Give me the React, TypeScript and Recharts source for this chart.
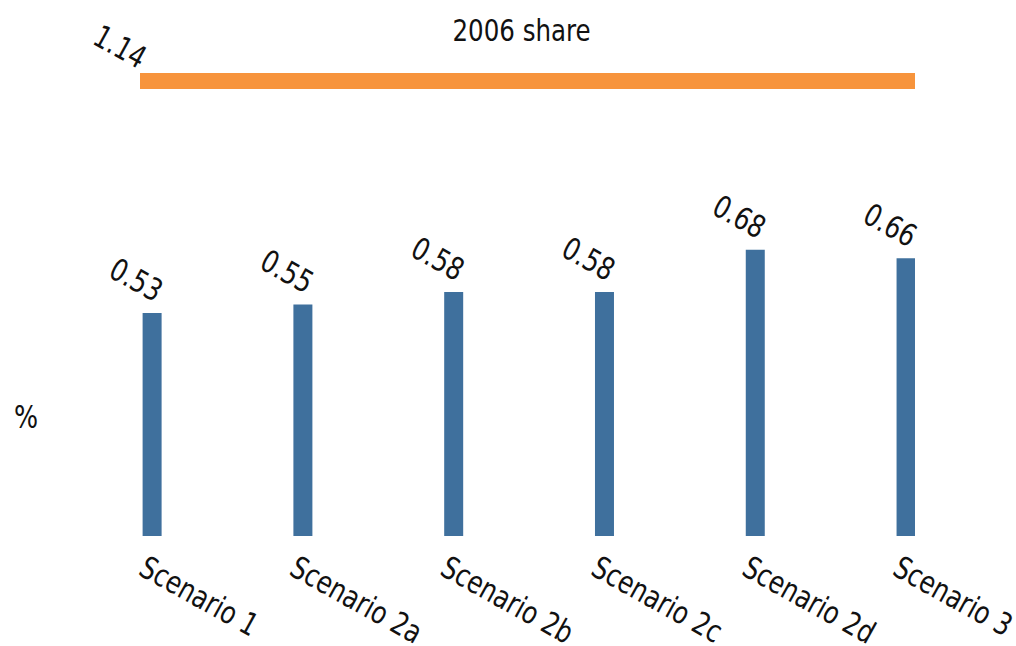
import { BarChart, Bar, XAxis, YAxis, ReferenceLine, LabelList } from 'recharts';

const scenarios = ['Scenario 1', 'Scenario 2a', 'Scenario 2b', 'Scenario 2c', 'Scenario 2d', 'Scenario 3'];
const shares = [0.53, 0.55, 0.58, 0.58, 0.68, 0.66];
const share2006 = 1.14;
const shareTitle = '2006 share';

const data = scenarios.map((name, i) => ({ idx: i, name, value: shares[i] }));

const FONT = '"DejaVu Sans", sans-serif';
const SX = 0.88; // narrow the glyphs a bit, the original uses a condensed face

// text placed at (x,y), rotated and squeezed horizontally
const Txt = ({ x, y, angle = 0, anchor = 'middle', baseline = 'central', size = 31, children }: any) => (
  <text x={0} y={0} transform={`translate(${x}, ${y}) rotate(${angle}) scale(${SX}, 1)`}
    textAnchor={anchor} dominantBaseline={baseline} fontFamily={FONT}
    style={{ fontStretch: 'condensed' }} fontSize={size} fill="#111">
    {children}
  </text>
);

// rotated tick label under each bar
const ScenarioTick = (props: any) => {
  const { x, y, payload } = props;
  return (
    <Txt x={x - 15} y={y + 30} angle={29} anchor="start" baseline="auto">
      {scenarios[payload.value]}
    </Txt>
  );
};

// rotated value above each bar
const ValueLabel = (props: any) => {
  const { x, y, width, value } = props;
  return (
    <Txt x={x + width / 2 - 16} y={y - 33} angle={29}>
      {value.toFixed(2)}
    </Txt>
  );
};

const ShareLabel = (props: any) => {
  const { viewBox } = props;
  return (
    <g>
      <Txt x={viewBox.x - 20} y={viewBox.y - 34} angle={29}>
        {share2006.toFixed(2)}
      </Txt>
      <Txt x={viewBox.x + viewBox.width / 2 - 6} y={viewBox.y - 51}>
        {shareTitle}
      </Txt>
    </g>
  );
};

const PercentLabel = (props: any) => {
  const { viewBox } = props;
  return (
    <Txt x={viewBox.x + 6} y={viewBox.y + viewBox.height * 0.765} size={32}>
      %
    </Txt>
  );
};

export default function App() {
  return (
    <div style={{ position: 'absolute', left: 0, top: 0, width: 1016, height: 646, background: '#fff' }}>
      <BarChart width={1016} height={646} data={data}
        margin={{ top: 31, right: 101, bottom: 10, left: 20 }}>
        <XAxis dataKey="idx" type="number" domain={[-0.0796, 5.06]} ticks={[0, 1, 2, 3, 4, 5]}
          interval={0} height={100} axisLine={false} tickLine={false} tick={<ScenarioTick />}
          allowDataOverflow />
        <YAxis yAxisId="val" domain={[0, 1.2]} width={120} tick={false} axisLine={false}
          tickLine={false} label={<PercentLabel />} allowDataOverflow />
        <YAxis yAxisId="share" orientation="right" domain={[0, 1.265]} hide allowDataOverflow />
        <ReferenceLine yAxisId="share" y={share2006} stroke="#f7943c" strokeWidth={16}
          ifOverflow="visible" label={<ShareLabel />} />
        <Bar yAxisId="val" dataKey="value" fill="#3f709d" barSize={19} isAnimationActive={false}>
          <LabelList dataKey="value" content={<ValueLabel />} />
        </Bar>
      </BarChart>
    </div>
  );
}
